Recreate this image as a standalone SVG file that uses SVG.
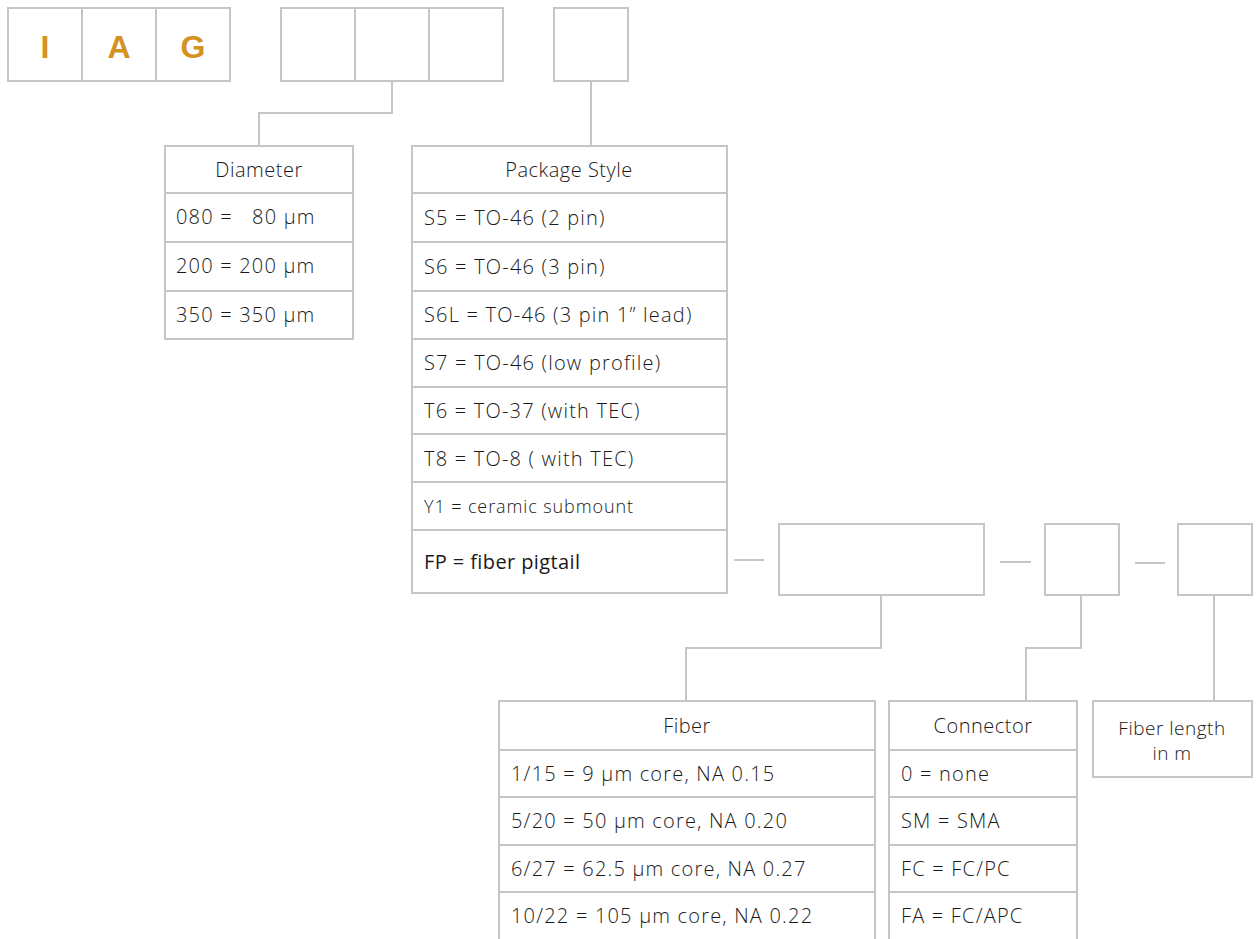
<svg xmlns="http://www.w3.org/2000/svg" width="1258" height="939" viewBox="0 0 1258 939">
<style>
.b{fill:#fff;stroke:#c6c6c6;stroke-width:2}
.l{fill:none;stroke:#c6c6c6;stroke-width:2}
.t{font-family:"Open Sans",Lato,"Liberation Sans",sans-serif;font-weight:300;font-size:20px;letter-spacing:1.2px;fill:#1a1a1a;white-space:pre}
.h{text-anchor:middle;letter-spacing:0.5px}
.fp{font-weight:400;letter-spacing:0.4px}
.g{font-family:"Liberation Sans",Arial,sans-serif;font-weight:bold;font-size:32px;fill:#d4921e;text-anchor:middle}
</style>
<rect width="1258" height="939" fill="#fff"/>
<g id="code-top">
<g id="box-I"><rect class="b" x="8" y="8" width="74" height="73"/><text class="g" x="45" y="58">I</text></g>
<g id="box-A"><rect class="b" x="82" y="8" width="74" height="73"/><text class="g" x="119" y="58">A</text></g>
<g id="box-G"><rect class="b" x="156" y="8" width="74" height="73"/><text class="g" x="193" y="58">G</text></g>
<g id="box-d1"><rect class="b" x="281" y="8" width="74" height="73"/></g>
<g id="box-d2"><rect class="b" x="355" y="8" width="74" height="73"/></g>
<g id="box-d3"><rect class="b" x="429" y="8" width="74" height="73"/></g>
<g id="box-p"><rect class="b" x="554" y="8" width="74" height="73"/></g>
</g>
<g id="connectors">
<path class="l" d="M392,81 V113 H259 V146"/>
<path class="l" d="M591,81 V146"/>
<path class="l" d="M734,560 H764"/>
<path class="l" d="M1000,562 H1031"/>
<path class="l" d="M1135,563 H1165"/>
<path class="l" d="M881,595 V648 H686 V701"/>
<path class="l" d="M1081,595 V648 H1026 V701"/>
<path class="l" d="M1214,595 V701"/>
</g>
<g id="diameter">
<rect class="b" x="165" y="146" width="188" height="193"/>
<path class="l" d="M165,193 H353 M165,242 H353 M165,291 H353"/>
<text class="t h" x="259" y="177">Diameter</text>
<text class="t" x="176" y="224">080 =   80 µm</text>
<text class="t" x="176" y="273">200 = 200 µm</text>
<text class="t" x="176" y="322">350 = 350 µm</text>
</g>
<g id="package">
<rect class="b" x="412" y="146" width="315" height="447"/>
<path class="l" d="M412,193 H727 M412,242 H727 M412,291 H727 M412,339 H727 M412,387 H727 M412,434 H727 M412,482 H727 M412,530 H727"/>
<text class="t h" x="569" y="177">Package Style</text>
<text class="t" x="424" y="225">S5 = TO-46 (2 pin)</text>
<text class="t" x="424" y="274">S6 = TO-46 (3 pin)</text>
<text class="t" x="424" y="322">S6L = TO-46 (3 pin 1” lead)</text>
<text class="t" x="424" y="370">S7 = TO-46 (low profile)</text>
<text class="t" x="424" y="418">T6 = TO-37 (with TEC)</text>
<text class="t" x="424" y="466">T8 = TO-8 ( with TEC)</text>
<text class="t" x="424" y="513" style="font-size:18px;letter-spacing:0.9px">Y1 = ceramic submount</text>
<text class="t fp" x="424" y="569">FP = fiber pigtail</text>
</g>
<g id="code-fiber"><rect class="b" x="779" y="524" width="205" height="71"/></g>
<g id="code-connector"><rect class="b" x="1045" y="524" width="74" height="71"/></g>
<g id="code-length"><rect class="b" x="1178" y="524" width="74" height="71"/></g>
<g id="fiber">
<path class="b" d="M499,940 V701 H875 V940"/>
<path class="l" d="M499,750 H875 M499,797 H875 M499,845 H875 M499,892 H875"/>
<text class="t h" x="687" y="733">Fiber</text>
<text class="t" x="511" y="781">1/15 = 9 µm core, NA 0.15</text>
<text class="t" x="511" y="828">5/20 = 50 µm core, NA 0.20</text>
<text class="t" x="511" y="876">6/27 = 62.5 µm core, NA 0.27</text>
<text class="t" x="511" y="923">10/22 = 105 µm core, NA 0.22</text>
</g>
<g id="connector">
<path class="b" d="M889,940 V701 H1077 V940"/>
<path class="l" d="M889,750 H1077 M889,797 H1077 M889,845 H1077 M889,892 H1077"/>
<text class="t h" x="983" y="733">Connector</text>
<text class="t" x="901" y="781">0 = none</text>
<text class="t" x="901" y="828">SM = SMA</text>
<text class="t" x="901" y="876">FC = FC/PC</text>
<text class="t" x="901" y="923">FA = FC/APC</text>
</g>
<g id="length">
<rect class="b" x="1093" y="701" width="159" height="76"/>
<text class="t h" x="1172" y="735" style="font-size:19px">Fiber length</text>
<text class="t h" x="1172" y="760" style="font-size:19px">in m</text>
</g>
</svg>
